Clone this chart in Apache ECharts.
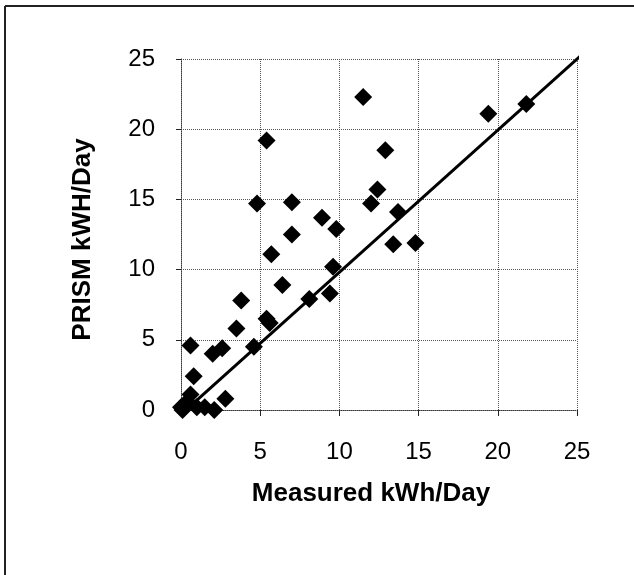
<!DOCTYPE html>
<html>
<head>
<meta charset="utf-8">
<script src="https://cdn.jsdelivr.net/npm/echarts@6/dist/echarts.min.js"></script>
<style>
html,body{margin:0;padding:0;background:#fff;}
#chart{width:634px;height:575px;}
</style>
</head>
<body>
<div id="chart"></div>
<script>
const measured = [11.5, 5.4, 12.9, 12.4, 12.0, 4.8, 7.0, 8.9, 9.8, 7.0, 13.7, 14.8, 13.4, 5.7, 9.6, 6.4, 9.4, 8.1, 3.8, 5.4, 5.6, 3.5, 4.6, 0.6, 2.0, 2.6, 0.8, 2.8, 2.1, 19.4, 21.8, 0.0, 0.4, 1.0, 1.5, 0.1, 0.6];
const prism    = [22.3, 19.2, 18.5, 15.7, 14.7, 14.7, 14.8, 13.7, 12.9, 12.5, 14.1, 11.9, 11.8, 11.1, 10.2, 8.9, 8.3, 7.9, 7.8, 6.5, 6.2, 5.8, 4.5, 4.6, 4.0, 4.4, 2.4, 0.8, 0.0, 21.1, 21.8, 0.2, 0.6, 0.2, 0.2, 0.0, 1.1];
const trendX = [0.9, 25.4];
const trendY = [0.6, 25.4];
const xTicks = [0, 5, 10, 15, 20, 25];
const yTicks = [0, 5, 10, 15, 20, 25];

const chart = echarts.init(document.getElementById('chart'), null, {renderer: 'canvas'});
const font = '"Liberation Sans", Arial, sans-serif';
const points = measured.map((m, i) => [m, prism[i]]);
const trend = trendX.map((x, i) => [x, trendY[i]]);

chart.setOption({
  animation: false,
  backgroundColor: '#fff',
  grid: {left: 181, top: 59, width: 396, height: 351, containLabel: false},
  graphic: [
    {type: 'line', shape: {x1: 5, y1: 6, x2: 634, y2: 6}, style: {stroke: '#222', lineWidth: 2}},
    {type: 'line', shape: {x1: 5, y1: 6, x2: 5, y2: 575}, style: {stroke: '#222', lineWidth: 2}}
  ],
  xAxis: {
    type: 'value', min: xTicks[0], max: xTicks[xTicks.length - 1], interval: 5,
    name: 'Measured kWh/Day', nameLocation: 'middle', nameGap: 71,
    nameTextStyle: {fontFamily: font, fontSize: 26, fontWeight: 'bold', color: '#000', padding: [0, 16, 0, 0]},
    axisLine: {show: true, lineStyle: {color: '#333', type: 'dotted', width: 1}},
    axisTick: {show: true, inside: false, length: 6, lineStyle: {color: '#222'}},
    axisLabel: {fontFamily: font, fontSize: 24, color: '#000', margin: 30},
    splitLine: {show: true, lineStyle: {color: '#555', type: 'dotted', width: 1}}
  },
  yAxis: {
    type: 'value', min: yTicks[0], max: yTicks[yTicks.length - 1], interval: 5,
    name: 'PRISM kWH/Day', nameLocation: 'middle', nameGap: 85,
    nameTextStyle: {fontFamily: font, fontSize: 26, fontWeight: 'bold', color: '#000', padding: [0, 10, 0, 0]},
    axisLine: {show: true, lineStyle: {color: '#333', type: 'dotted', width: 1}},
    axisTick: {show: true, inside: false, length: 5, lineStyle: {color: '#222'}},
    axisLabel: {fontFamily: font, fontSize: 24, color: '#000', margin: 26},
    splitLine: {show: true, lineStyle: {color: '#555', type: 'dotted', width: 1}}
  },
  series: [
    {
      type: 'scatter', data: points, symbol: 'diamond', symbolSize: 18,
      itemStyle: {color: '#000', opacity: 1}
    },
    {
      type: 'line', data: trend, showSymbol: false, symbol: 'none', clip: false,
      lineStyle: {color: '#000', width: 3}
    }
  ]
});
</script>
</body>
</html>
